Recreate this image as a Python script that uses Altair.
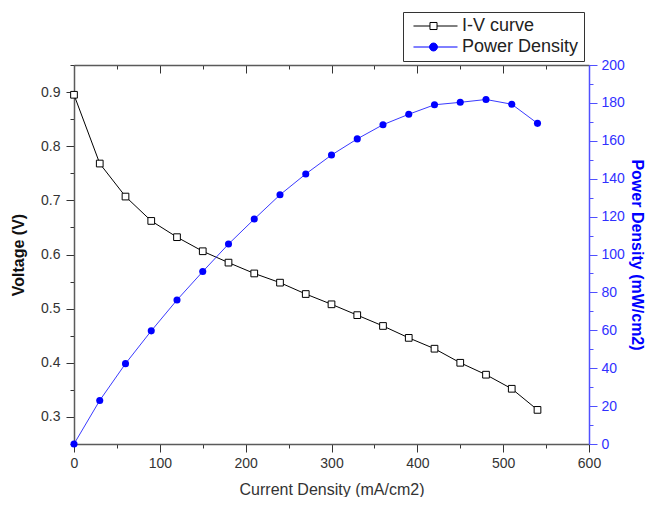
import altair as alt
import pandas as pd

# ---- data ----
current = [0, 30, 60, 90, 120, 150, 180, 210, 240, 270, 300, 330, 360, 390, 420, 450, 480, 510, 540]
voltage = [0.895, 0.768, 0.707, 0.662, 0.632, 0.606, 0.585, 0.565, 0.548, 0.527, 0.508,
           0.488, 0.468, 0.446, 0.426, 0.400, 0.378, 0.352, 0.313]
power = [0, 23, 42.4, 59.7, 76, 91, 105.5, 118.7, 131.5, 142.5, 152.5,
         161, 168.5, 174, 179, 180.3, 181.8, 179.3, 169.2]
series_names = ["I-V curve", "Power Density"]

x_ticks = list(range(0, 601, 50))
v_ticks = [round(0.25 + 0.05 * i, 2) for i in range(15)]
p_ticks = list(range(0, 201, 10))

df = pd.DataFrame({"current": current, "voltage": voltage, "power": power})
legend_df = pd.DataFrame({"series": series_names, "current": [0, 0], "voltage": [0.5, 0.5]})

FONT = "Liberation Sans"
GRAY = "#5a5a5a"
DARK = "#333333"
BLUE = "#0000ff"
AXBLUE = "#5050ff"

major_x = "datum.value % 100 === 0"
major_v = "abs(datum.value * 10 - round(datum.value * 10)) < 0.001"
major_p = "datum.value % 20 === 0"

x_scale = alt.Scale(domain=[0, 600], nice=False, zero=False)
v_scale = alt.Scale(domain=[0.25, 0.95], nice=False, zero=False)
p_scale = alt.Scale(domain=[0, 200], nice=False, zero=False)

x_bottom = alt.Axis(orient="bottom", values=x_ticks, title="Current Density (mA/cm2)",
                    labelExpr=f"{major_x} ? datum.label : ''",
                    tickSize={"expr": f"{major_x} ? 8 : 4"},
                    labelFlush=False, labelOverlap=False, labelPadding=4,
                    titleFontWeight="normal", titleFontSize=16, titleColor=DARK, titlePadding=11)
x_top = alt.Axis(orient="top", values=x_ticks, title=None, labels=False,
                 tickSize={"expr": f"{major_x} ? -8 : -4"})
y_left = alt.Axis(orient="left", values=v_ticks, format=".1f", title="Voltage (V)",
                  labelExpr=f"{major_v} ? datum.label : ''",
                  tickSize={"expr": f"{major_v} ? 8 : 4"},
                  labelFlush=False, labelOverlap=False, labelPadding=6,
                  titleFontWeight="bold", titleFontSize=16, titleColor="#111111", titlePadding=14)
y_right = alt.Axis(orient="right", values=p_ticks, title="Power Density (mW/cm2)",
                   labelExpr=f"{major_p} ? datum.label : ''",
                   tickSize={"expr": f"{major_p} ? 8 : 4"},
                   labelFlush=False, labelOverlap=False, labelPadding=4,
                   domainColor=AXBLUE, tickColor=AXBLUE, labelColor="#3030ff",
                   titleFontWeight="bold", titleFontSize=16, titleColor=BLUE, titlePadding=4)

# legend symbols: line - marker - line
sq_path = "M-0.47,0H1.73M2.67,0H5.4M1.73,-0.47H2.67V0.47H1.73Z"
ci_path = ("M-0.47,0H1.67M2.73,0H5.4M2.73,0A0.53,0.53,0,1,1,1.67,0"
           "A0.53,0.53,0,1,1,2.73,0Z")

left_enc = dict(x=alt.X("current:Q", scale=x_scale, axis=x_bottom),
                y=alt.Y("voltage:Q", scale=v_scale, axis=y_left))

iv_line = alt.Chart(df).mark_line(color="#000000", strokeWidth=1).encode(**left_enc)
iv_pts = alt.Chart(df).mark_point(shape="square", filled=True, fill="white", stroke="black",
                                  strokeWidth=1, size=45, opacity=1).encode(**left_enc)
legend_layer = (
    alt.Chart(legend_df)
    .transform_filter("datum.current < 0")
    .mark_point(filled=True, opacity=1, strokeWidth=1)
    .encode(
        **left_enc,
        shape=alt.Shape("series:N", scale=alt.Scale(domain=series_names, range=[sq_path, ci_path]),
                        legend=alt.Legend(title=None, orient="none", legendX=329, legendY=-53,
                                          padding=5, strokeColor=DARK, fillColor="white",
                                          symbolSize=225, symbolStrokeWidth=1, labelOffset=36,
                                          labelFontSize=18, labelFont=FONT, labelColor="#222222",
                                          rowPadding=3)),
        stroke=alt.Stroke("series:N", scale=alt.Scale(domain=series_names, range=["#000000", BLUE])),
        fill=alt.Fill("series:N", scale=alt.Scale(domain=series_names, range=["#ffffff", BLUE])),
    )
)

right_enc = dict(x=alt.X("current:Q", scale=x_scale, axis=x_top),
                 y=alt.Y("power:Q", scale=p_scale, axis=y_right))
pw_line = alt.Chart(df).mark_line(color="#3a3aff", strokeWidth=1).encode(**right_enc)
pw_pts = alt.Chart(df).mark_point(shape="circle", filled=True, color=BLUE, size=50,
                                  opacity=1).encode(**right_enc)

chart = (
    alt.layer(alt.layer(iv_line, iv_pts, legend_layer), alt.layer(pw_line, pw_pts))
    .resolve_scale(y="independent")
    .resolve_axis(x="independent", y="independent")
    .properties(width=515, height=379,
                padding={"left": 66, "top": 57, "right": 57, "bottom": 53},
                autosize=alt.AutoSizeParams(type="none"))
    .configure_view(stroke=None)
    .configure_axis(grid=False, labelFont=FONT, titleFont=FONT, labelFontSize=14,
                    labelColor=DARK, domainColor=GRAY, domainWidth=1.5,
                    tickColor=DARK, tickWidth=1)
    .configure_legend(labelFont=FONT)
)

chart.save("out.html", embed_options={"renderer": "svg", "actions": False})
